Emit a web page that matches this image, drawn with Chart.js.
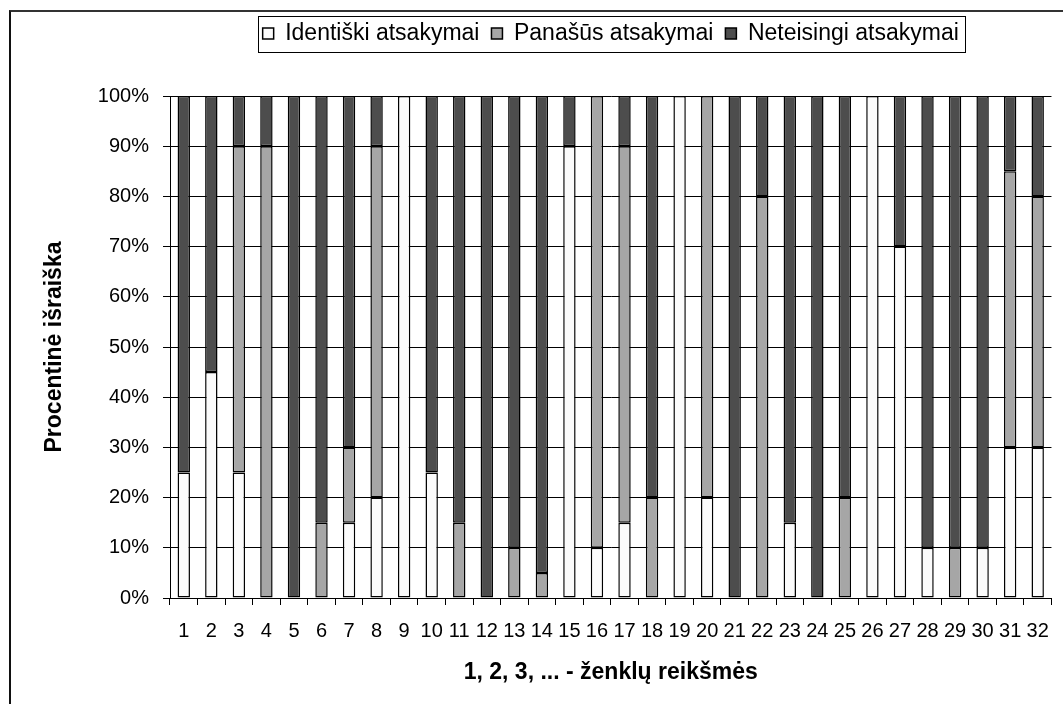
<!DOCTYPE html>
<html>
<head>
<meta charset="utf-8">
<script src="https://cdn.jsdelivr.net/npm/chart.js@4/dist/chart.umd.min.js"></script>
<style>
  html, body { margin: 0; padding: 0; background: #fff; }
  #wrap { position: relative; width: 1063px; height: 704px; }
  #frame {
    position: absolute; left: 9px; top: 10px; right: -4px; bottom: -4px;
    border-left: 2px solid #111; border-top: 2px solid #333;
    pointer-events: none;
  }
</style>
</head>
<body>
<div id="wrap">
  <canvas id="chart" width="1063" height="704"></canvas>
  <div id="frame"></div>
</div>
<script>
'use strict';

// ── Data ──────────────────────────────────────────────────────────────────────

const categories = Array.from({ length: 32 }, (_, i) => String(i + 1));

const identical = [25, 45, 25, 0, 0, 0, 15, 20, 100, 25, 0, 0, 0, 0, 90, 10,
                   15, 0, 100, 20, 0, 0, 15, 0, 0, 100, 70, 10, 0, 10, 30, 30];
const similar   = [0, 0, 65, 90, 0, 15, 15, 70, 0, 0, 15, 0, 10, 5, 0, 90,
                   75, 20, 0, 80, 0, 80, 0, 0, 20, 0, 0, 0, 10, 0, 55, 50];
const wrong     = [75, 55, 10, 10, 100, 85, 70, 10, 0, 75, 85, 100, 90, 95, 10, 0,
                   10, 80, 0, 0, 100, 20, 85, 100, 80, 0, 30, 90, 90, 90, 15, 20];

const seriesNames = ['Identiški atsakymai', 'Panašūs atsakymai', 'Neteisingi atsakymai'];
const seriesColors = ['#fbfbfb', '#a6a6a6', '#4d4d4d'];

const FONT = 'Liberation Sans, Arial, sans-serif';

// ── Plugins ───────────────────────────────────────────────────────────────────

// extra room under the legend so the plot starts lower
const legendGap = {
  id: 'legendGap',
  beforeInit(chart) {
    const fit = chart.legend.fit;
    chart.legend.fit = function () {
      fit.bind(chart.legend)();
      this.height += 41;
    };
  },
};

// box round the legend items
const legendFrame = {
  id: 'legendFrame',
  afterDraw(chart) {
    const boxes = chart.legend.legendHitBoxes;
    if (!boxes || !boxes.length) return;
    const l = Math.min(...boxes.map(b => b.left)) - 5;
    const r = Math.max(...boxes.map(b => b.left + b.width)) + 6;
    const t = boxes[0].top - 6;
    const h = boxes[0].height + 13;
    const ctx = chart.ctx;
    ctx.save();
    ctx.strokeStyle = '#000';
    ctx.lineWidth = 1;
    ctx.strokeRect(Math.round(l) + 0.5, Math.round(t) + 0.5, Math.round(r - l), Math.round(h));
    ctx.restore();
  },
};

// ── Chart ─────────────────────────────────────────────────────────────────────

const ctx = document.getElementById('chart').getContext('2d');

new Chart(ctx, {
  type: 'bar',
  data: {
    labels: categories,
    datasets: [identical, similar, wrong].map((d, i) => ({
      label: seriesNames[i],
      data: d,
      backgroundColor: seriesColors[i],
      borderColor: '#000',
      borderWidth: 1.5,
      borderSkipped: false,
      barPercentage: 0.45,
      categoryPercentage: 1,
    })),
  },
  options: {
    responsive: false,
    animation: false,
    layout: { padding: { left: 28, right: 9, top: 10, bottom: 11 } },
    plugins: {
      legend: {
        position: 'top',
        fullSize: false,
        labels: {
          color: '#000',
          font: { size: 23, family: FONT },
          boxWidth: 11,
          boxHeight: 11,
          padding: 12,
          useBorderRadius: false,
        },
      },
      tooltip: { enabled: false },
    },
    scales: {
      x: {
        stacked: true,
        grid: { drawOnChartArea: false, drawTicks: true, tickLength: 7, color: '#000', offset: true },
        border: { color: '#000', width: 1 },
        ticks: { color: '#000', font: { size: 20, family: FONT }, padding: 14, maxRotation: 0, autoSkip: false },
        title: {
          display: true,
          text: '1, 2, 3, ... - ženklų reikšmės',
          color: '#000',
          font: { size: 23, weight: 'bold', family: FONT },
          padding: { top: 0, bottom: 7 },
        },
        afterFit: s => { s.height = 704 - 11 - 598; },
      },
      y: {
        stacked: true,
        min: 0,
        max: 100,
        grid: { color: '#000', tickLength: 7 },
        border: { color: '#000', width: 1 },
        ticks: {
          stepSize: 10,
          color: '#000',
          font: { size: 20, family: FONT },
          padding: 14,
          callback: v => v + '%',
        },
        title: {
          display: true,
          text: 'Procentinė išraiška',
          color: '#000',
          font: { size: 23, weight: 'bold', family: FONT },
          padding: { top: 13, bottom: 0 },
        },
        afterFit: s => { s.width = 170 - 28; },
      },
    },
  },
  plugins: [legendGap, legendFrame],
});
</script>
</body>
</html>
